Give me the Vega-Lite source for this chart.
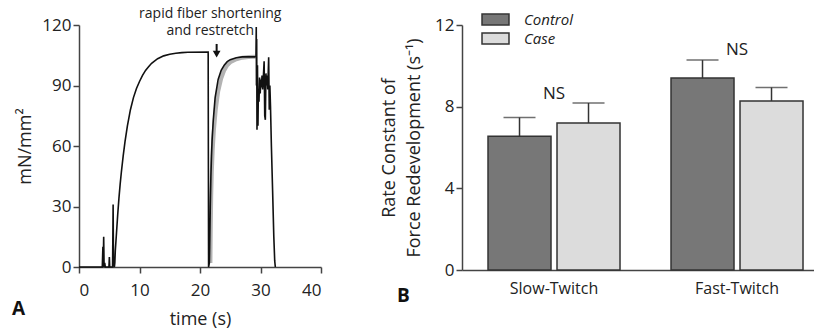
{
  "$schema": "https://vega.github.io/schema/vega-lite/v6.json",
  "background": "white",
  "padding": {"left": 12, "top": 6, "right": 0, "bottom": 0},
  "config": {
    "font": "Open Sans",
    "view": {"stroke": null},
    "axis": {
      "grid": false,
      "domainColor": "#444",
      "domainWidth": 1.5,
      "tickColor": "#444",
      "tickWidth": 1.5,
      "tickSize": 6,
      "labelFont": "Open Sans",
      "labelFontSize": 17,
      "labelColor": "#222",
      "titleFont": "Open Sans",
      "titleFontSize": 18,
      "titleFontWeight": "normal",
      "titleColor": "#222"
    }
  },
  "datasets": {
    "black": [
      {"t": 0, "v": 0}, {"t": 3.85, "v": 0}, {"t": 3.95, "v": 10}, {"t": 4.0, "v": 0}, {"t": 4.08, "v": 15}, {"t": 4.15, "v": 0},
      {"t": 4.25, "v": 2}, {"t": 4.35, "v": 0}, {"t": 4.95, "v": 0}, {"t": 5.02, "v": 5}, {"t": 5.08, "v": 0}, {"t": 5.55, "v": 0},
      {"t": 5.64, "v": 31}, {"t": 5.7, "v": 2}, {"t": 5.85, "v": 0}, {"t": 5.92, "v": 2}, {"t": 6.0, "v": 8}, {"t": 6.2, "v": 17},
      {"t": 6.4, "v": 26}, {"t": 6.6, "v": 34}, {"t": 6.8, "v": 41}, {"t": 7.0, "v": 47}, {"t": 7.3, "v": 55}, {"t": 7.6, "v": 62},
      {"t": 8.0, "v": 70}, {"t": 8.5, "v": 78}, {"t": 9.0, "v": 84}, {"t": 9.5, "v": 88.5}, {"t": 10.0, "v": 92}, {"t": 10.5, "v": 95},
      {"t": 11.0, "v": 97.5}, {"t": 11.5, "v": 99.3}, {"t": 12.0, "v": 101}, {"t": 13.0, "v": 103.3}, {"t": 14.0, "v": 104.7},
      {"t": 15.0, "v": 105.5}, {"t": 16.0, "v": 106}, {"t": 17.0, "v": 106.3}, {"t": 18.0, "v": 106.5}, {"t": 21.35, "v": 106.6},
      {"t": 21.42, "v": 0}, {"t": 21.55, "v": 2}, {"t": 21.6, "v": 10}, {"t": 21.7, "v": 30}, {"t": 21.8, "v": 45}, {"t": 21.9, "v": 55},
      {"t": 22.0, "v": 63}, {"t": 22.2, "v": 73}, {"t": 22.5, "v": 84}, {"t": 23.0, "v": 93}, {"t": 23.5, "v": 97.5}, {"t": 24.0, "v": 100},
      {"t": 24.5, "v": 101.8}, {"t": 25.0, "v": 102.8}, {"t": 26.0, "v": 103.8}, {"t": 27.0, "v": 104.2}, {"t": 29.25, "v": 104.3},
      {"t": 29.3, "v": 119}, {"t": 29.33, "v": 90}, {"t": 29.37, "v": 113}, {"t": 29.42, "v": 68}, {"t": 29.5, "v": 100}, {"t": 29.58, "v": 70},
      {"t": 29.65, "v": 88}, {"t": 29.75, "v": 82}, {"t": 29.85, "v": 94}, {"t": 29.95, "v": 86}, {"t": 30.05, "v": 93}, {"t": 30.15, "v": 89},
      {"t": 30.25, "v": 95}, {"t": 30.35, "v": 88}, {"t": 30.45, "v": 93}, {"t": 30.6, "v": 102}, {"t": 30.7, "v": 75}, {"t": 30.8, "v": 73},
      {"t": 30.9, "v": 96}, {"t": 31.0, "v": 90}, {"t": 31.1, "v": 95}, {"t": 31.2, "v": 88}, {"t": 31.35, "v": 104}, {"t": 31.45, "v": 78},
      {"t": 31.55, "v": 90}, {"t": 31.65, "v": 80}, {"t": 31.8, "v": 60}, {"t": 32.0, "v": 38}, {"t": 32.2, "v": 15}, {"t": 32.35, "v": 3},
      {"t": 32.45, "v": 0}
    ],
    "gray": [
      {"t": 21.72, "v": 2}, {"t": 21.78, "v": 20}, {"t": 21.85, "v": 35}, {"t": 21.95, "v": 47}, {"t": 22.1, "v": 58}, {"t": 22.3, "v": 68},
      {"t": 22.6, "v": 78}, {"t": 23.0, "v": 87}, {"t": 23.5, "v": 93.5}, {"t": 24.0, "v": 97.5}, {"t": 24.5, "v": 100}, {"t": 25.0, "v": 101.5},
      {"t": 26.0, "v": 103}, {"t": 27.0, "v": 103.8}, {"t": 28.0, "v": 104.1}, {"t": 29.2, "v": 104.3}
    ],
    "note": [
      {"t": 21.7, "v": 125.5, "label": "rapid fiber shortening"},
      {"t": 21.7, "v": 116.8, "label": "and restretch"}
    ],
    "arrow": [
      {"t": 22.75, "v": 110.6, "v2": 106.5, "head": 105.6}
    ],
    "bars": [
      {"group": "Slow-Twitch", "series": "Control", "value": 6.55, "err": 7.47},
      {"group": "Slow-Twitch", "series": "Case", "value": 7.2, "err": 8.18},
      {"group": "Fast-Twitch", "series": "Control", "value": 9.4, "err": 10.28},
      {"group": "Fast-Twitch", "series": "Case", "value": 8.28, "err": 8.94}
    ],
    "ns": [
      {"group": "Slow-Twitch", "y": 8.6, "label": "NS"},
      {"group": "Fast-Twitch", "y": 10.8, "label": "NS"}
    ]
  },
  "spacing": 58,
  "hconcat": [
    {
      "width": 242,
      "height": 242,
      "title": {"text": "A", "orient": "bottom", "anchor": "start", "frame": "group", "dx": -67, "dy": -28, "fontSize": 19, "fontWeight": "bold", "font": "Open Sans", "color": "#111", "offset": 0},
      "layer": [
        {
          "data": {"name": "gray"},
          "mark": {"type": "line", "color": "#b3b3b3", "strokeWidth": 4},
          "encoding": {
            "x": {"field": "t", "type": "quantitative", "scale": {"domain": [0, 40], "nice": false},
              "axis": {"values": [0, 10, 20, 30, 40], "title": "time (s)", "labelPadding": 9, "titlePadding": 12}},
            "y": {"field": "v", "type": "quantitative", "scale": {"domain": [0, 120], "nice": false},
              "axis": {"values": [0, 30, 60, 90, 120], "title": "mN/mm²", "labelPadding": 2, "titlePadding": 7}}
          }
        },
        {
          "data": {"name": "black"},
          "mark": {"type": "line", "color": "#111", "strokeWidth": 1.6},
          "encoding": {
            "x": {"field": "t", "type": "quantitative"},
            "y": {"field": "v", "type": "quantitative"}
          }
        },
        {
          "data": {"name": "note"},
          "mark": {"type": "text", "fontSize": 14, "color": "#222", "align": "center", "baseline": "middle", "font": "Open Sans"},
          "encoding": {
            "x": {"field": "t", "type": "quantitative"},
            "y": {"field": "v", "type": "quantitative"},
            "text": {"field": "label"}
          }
        },
        {
          "data": {"name": "arrow"},
          "mark": {"type": "rule", "color": "#111", "strokeWidth": 2},
          "encoding": {
            "x": {"field": "t", "type": "quantitative"},
            "y": {"field": "v", "type": "quantitative"},
            "y2": {"field": "v2"}
          }
        },
        {
          "data": {"name": "arrow"},
          "mark": {"type": "point", "shape": "triangle-down", "filled": true, "color": "#111", "size": 60, "opacity": 1},
          "encoding": {
            "x": {"field": "t", "type": "quantitative"},
            "y": {"field": "head", "type": "quantitative"}
          }
        }
      ]
    },
    {
      "width": 352,
      "height": 245,
      "title": {"text": "B", "orient": "bottom", "anchor": "start", "frame": "group", "dx": -65, "dy": -9, "fontSize": 19, "fontWeight": "bold", "font": "Open Sans", "color": "#111", "offset": 0},
      "layer": [
        {
          "data": {"name": "bars"},
          "mark": {"type": "bar", "stroke": "#333", "strokeWidth": 1.5},
          "encoding": {
            "x": {"field": "group", "type": "nominal", "sort": ["Slow-Twitch", "Fast-Twitch"],
              "scale": {"paddingInner": 0.2787, "paddingOuter": 0.1011, "align": 0.703},
              "axis": {"title": null, "ticks": false, "labelAngle": 0, "labelPadding": 10, "labelFontSize": 16}},
            "xOffset": {"field": "series", "type": "nominal", "scale": {"domain": ["Control", "Case"], "paddingInner": 0.087, "paddingOuter": 0}},
            "y": {"field": "value", "type": "quantitative", "scale": {"domain": [0, 12], "nice": false},
              "axis": {"values": [0, 4, 8, 12], "title": ["Rate Constant of", "Force Redevelopment (s⁻¹)"], "titleLineHeight": 25, "labelPadding": 2, "titlePadding": 11}},
            "color": {"field": "series", "type": "nominal",
              "scale": {"domain": ["Control", "Case"], "range": ["#777777", "#dcdcdc"]},
              "legend": {"title": null, "orient": "none", "legendX": 409, "legendY": -13, "direction": "vertical",
                "symbolType": "M-2,-0.8H2V0.8H-2Z", "symbolSize": 182, "symbolStrokeColor": "#333", "symbolStrokeWidth": 1.5,
                "labelFontSize": 15, "labelFontStyle": "italic", "labelFont": "Open Sans", "labelColor": "#222", "labelOffset": 21, "rowPadding": 2}}
          }
        },
        {
          "data": {"name": "bars"},
          "mark": {"type": "rule", "color": "#333", "strokeWidth": 1.5},
          "encoding": {
            "x": {"field": "group", "type": "nominal", "sort": ["Slow-Twitch", "Fast-Twitch"]},
            "xOffset": {"field": "series", "type": "nominal"},
            "y": {"field": "value", "type": "quantitative"},
            "y2": {"field": "err"}
          }
        },
        {
          "data": {"name": "bars"},
          "mark": {"type": "tick", "color": "#333", "thickness": 1.5, "size": 32, "orient": "horizontal"},
          "encoding": {
            "x": {"field": "group", "type": "nominal", "sort": ["Slow-Twitch", "Fast-Twitch"]},
            "xOffset": {"field": "series", "type": "nominal"},
            "y": {"field": "err", "type": "quantitative"}
          }
        },
        {
          "data": {"name": "ns"},
          "mark": {"type": "text", "fontSize": 17, "color": "#222", "align": "center", "baseline": "middle", "font": "Open Sans"},
          "encoding": {
            "x": {"field": "group", "type": "nominal", "sort": ["Slow-Twitch", "Fast-Twitch"]},
            "y": {"field": "y", "type": "quantitative"},
            "text": {"field": "label"}
          }
        }
      ]
    }
  ]
}
